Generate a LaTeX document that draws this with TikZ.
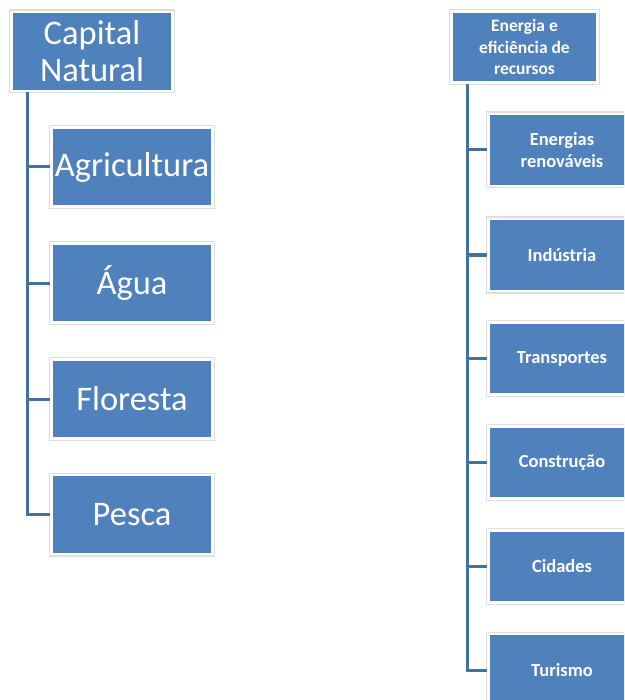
\documentclass[tikz,border=0pt]{standalone}
\usepackage{fontspec}
\setmainfont{Carlito}
\definecolor{boxblue}{HTML}{4F81BD}
\definecolor{linkblue}{HTML}{41719C}
\begin{document}
\begin{tikzpicture}[x=1pt,y=-1pt,
  box/.style={fill=boxblue, draw=white, line width=2.5pt, text=white, align=center,
    inner sep=0pt, preaction={draw=black!13, line width=5pt}},
  bigbox/.style={box, minimum width=161pt, minimum height=79pt, font=\fontsize{34.5}{37}\selectfont},
  smallbox/.style={box, minimum width=147pt, minimum height=72pt, font=\bfseries\fontsize{18.5}{22}\selectfont},
  topbox/.style={box, minimum width=146pt, minimum height=71pt, font=\bfseries\fontsize{17.5}{21.5}\selectfont},
  conn/.style={draw=linkblue, line width=3pt}]
\useasboundingbox (0,0) rectangle (624,700);
\clip (0,0) rectangle (624,700);
\fill[white] (0,0) rectangle (624,700);

% left tree
\coordinate (lx) at (27,0);
\node[bigbox] (cn) at (92,51.5) {Capital\\Natural};
\node[bigbox] (agr) at (132,167) {Agricultura};
\node[bigbox] (agua) at (132,283) {Água};
\node[bigbox] (flor) at (132,399) {Floresta};
\node[bigbox] (pesca) at (132,514.5) {Pesca};

% right tree
\coordinate (rx) at (467,0);
\node[topbox] (eer) at (524.5,47) {Energia e\\eficiência de\\recursos};
\node[smallbox] (ren) at (562,150) {Energias\\renováveis};
\node[smallbox] (ind) at (562,255) {Indústria};
\node[smallbox] (tra) at (562,358.5) {Transportes};
\node[smallbox] (con) at (562,462.5) {Construção};
\node[smallbox] (cid) at (562,566.5) {Cidades};
\node[smallbox] (tur) at (562,670) {Turismo};

\draw[conn] (cn.south -| lx) |- (pesca.west);
\draw[conn] (lx |- agr) -- (agr.west);
\draw[conn] (lx |- agua) -- (agua.west);
\draw[conn] (lx |- flor) -- (flor.west);

\draw[conn] (eer.south -| rx) |- (tur.west);
\draw[conn] (rx |- ren) -- (ren.west);
\draw[conn] (rx |- ind) -- (ind.west);
\draw[conn] (rx |- tra) -- (tra.west);
\draw[conn] (rx |- con) -- (con.west);
\draw[conn] (rx |- cid) -- (cid.west);
\end{tikzpicture}
\end{document}
